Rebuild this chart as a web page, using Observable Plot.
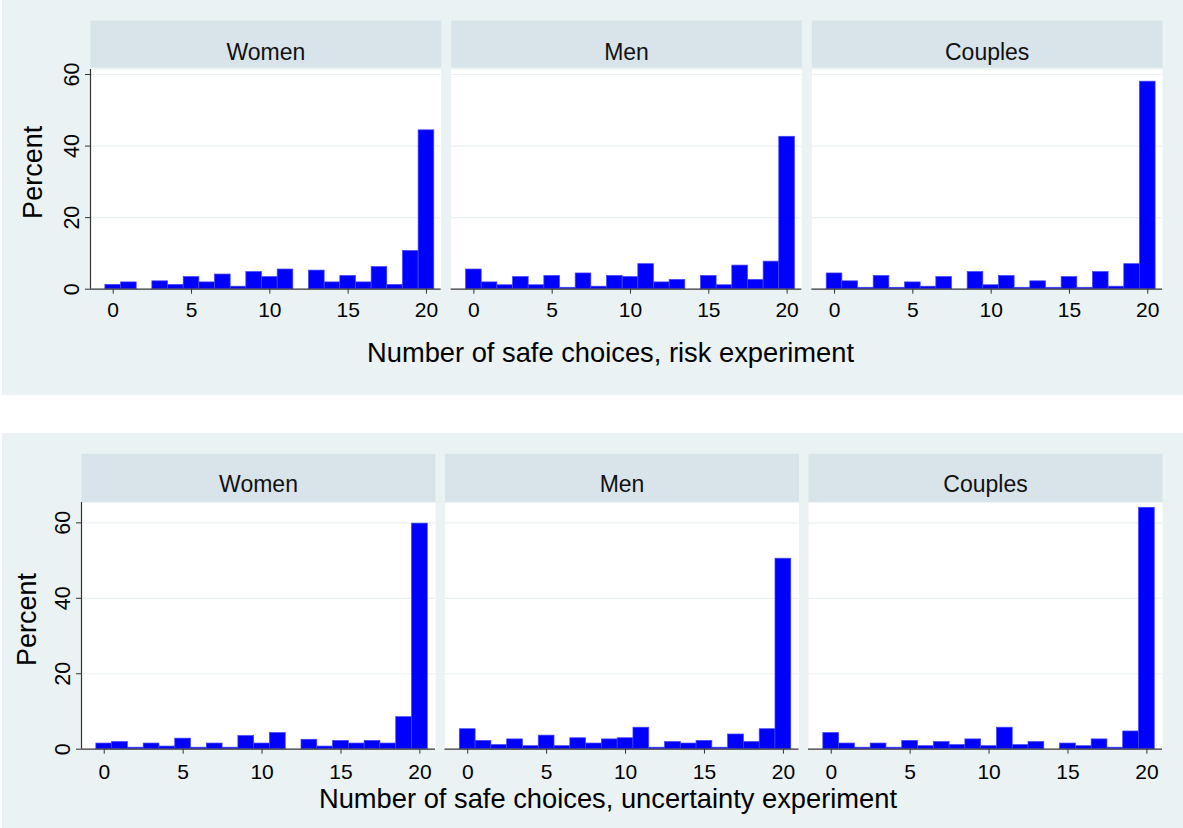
<!DOCTYPE html>
<html>
<head>
<meta charset="utf-8">
<script src="https://cdn.jsdelivr.net/npm/d3@7"></script>
<script src="https://cdn.jsdelivr.net/npm/@observablehq/plot@0.6"></script>
<style>
  html, body { margin: 0; padding: 0; background: #ffffff; }
  body { width: 1183px; height: 828px; position: relative; overflow: hidden;
         font-family: "Liberation Sans", Arial, sans-serif; }
  .panel { position: absolute; left: 2px; width: 1181px; height: 395px; background: #EAF2F3; }
</style>
</head>
<body>
<div id="risk" class="panel" style="top:0px"></div>
<div id="uncertainty" class="panel" style="top:433px"></div>
<script>
// Facet groups and histogram bins (number of safe choices, 0–20)
const groups = ["Women", "Men", "Couples"];
const choices = [0, 1, 2, 3, 4, 5, 6, 7, 8, 9, 10, 11, 12, 13, 14, 15, 16, 17, 18, 19, 20];

// Percent of respondents per bin, risk experiment
const riskWomen   = [1.2, 1.9, 0, 2.2, 1.2, 3.4, 1.9, 4.1, 0.7, 4.8, 3.4, 5.5, 0, 5.2, 1.9, 3.7, 1.9, 6.2, 1.2, 10.7, 44.4];
const riskMen     = [5.5, 1.9, 1.1, 3.4, 1.1, 3.7, 0.4, 4.4, 0.7, 3.7, 3.4, 7.0, 1.9, 2.6, 0, 3.7, 1.1, 6.6, 2.6, 7.7, 42.6];
const riskCouples = [4.4, 2.2, 0.4, 3.7, 0.4, 1.9, 0.7, 3.4, 0, 4.8, 1.1, 3.7, 0.4, 2.2, 0.4, 3.4, 0.4, 4.8, 0.7, 7.0, 58.0];

// Percent of respondents per bin, uncertainty experiment
const uncWomen   = [1.5, 1.9, 0.4, 1.5, 0.7, 2.8, 0.4, 1.5, 0.4, 3.5, 1.5, 4.3, 0, 2.5, 0.7, 2.2, 1.5, 2.2, 1.5, 8.5, 59.8];
const uncMen     = [5.3, 2.2, 1.1, 2.6, 0.8, 3.6, 0.8, 2.9, 1.5, 2.6, 2.9, 5.7, 0.4, 1.9, 1.5, 2.2, 0.4, 3.9, 1.9, 5.3, 50.5];
const uncCouples = [4.3, 1.5, 0.4, 1.5, 0.4, 2.2, 0.8, 1.9, 1.1, 2.6, 0.8, 5.7, 1.1, 1.9, 0, 1.5, 0.8, 2.6, 0.4, 4.7, 64.0];

// Axis ticks and titles
const xTicks = [0, 5, 10, 15, 20];
const yTicks = [0, 20, 40, 60];
const yTitle = "Percent";
const riskTitle = "Number of safe choices, risk experiment";
const uncTitle = "Number of safe choices, uncertainty experiment";

const FONT = "Liberation Sans, Arial, sans-serif";
const BG = "#EAF2F3";
const STRIP = "#D8E4EA";
const AXIS = "#333333";

function tidy(series) {
  return groups.flatMap((g, i) => choices.map((c, j) => ({group: g, choice: c, percent: series[i][j]})));
}

function histogramPanel(series, title, o) {
  const data = tidy(series);
  const plotH = o.height - o.marginTop - o.marginBottom;
  return Plot.plot({
    width: 1181,
    height: o.height,
    marginLeft: o.marginLeft,
    marginRight: o.marginRight,
    marginTop: o.marginTop,
    marginBottom: o.marginBottom,
    style: {background: "transparent", fontFamily: FONT, color: "#000", overflow: "visible"},
    fx: {domain: groups, paddingInner: o.facetGap, paddingOuter: 0, round: false, axis: null, label: null},
    x: {domain: o.xDomain, axis: null},
    y: {domain: [0, o.yMax], axis: null},
    marks: [
      // header strip above each facet, and the white plotting region
      Plot.frame({fill: STRIP, stroke: null, insetTop: -o.stripHeight - o.stripGap, insetBottom: plotH + o.stripGap}),
      Plot.frame({fill: "#ffffff", stroke: null}),
      Plot.gridY({ticks: yTicks.slice(1), stroke: BG, strokeOpacity: 1, strokeWidth: 1.2}),
      Plot.text(groups, {fx: d => d, text: d => d, frameAnchor: "top", dy: o.stripTextDy,
        fontSize: 23, fill: "#111"}),
      // histogram bars
      Plot.rectY(data, {
        x1: d => d.choice - 0.5, x2: d => d.choice + 0.5, y: "percent", fx: "group",
        fill: "#0000FF", stroke: "#4646FF", strokeWidth: 0.7
      }),
      // axes
      Plot.ruleY([0], {stroke: AXIS, strokeWidth: 1.2}),
      Plot.ruleX([{group: "Women", at: o.xDomain[0]}], {x: "at", fx: "group", stroke: AXIS, strokeWidth: 1.2}),
      Plot.axisX({ticks: xTicks, tickSize: 5, tickPadding: o.xTickPadding, fontSize: 21,
        label: null, stroke: AXIS, fill: "#000"}),
      Plot.axisY({ticks: yTicks, tickSize: 5, tickRotate: -90, tickPadding: o.yTickPadding, fontSize: 21.5,
        label: null, stroke: AXIS, fill: "#000"}),
      // axis titles
      Plot.text([{group: "Women", label: yTitle}], {fx: "group", text: "label", frameAnchor: "left",
        textAnchor: "middle", rotate: -90, lineAnchor: "top", dx: o.yTitleDx, dy: o.yTitleDy,
        fontSize: 27, fill: "#000"}),
      Plot.text([{group: "Men", label: title}], {fx: "group", text: "label", frameAnchor: "bottom",
        textAnchor: "middle", lineAnchor: "top", dx: o.xTitleDx, dy: o.xTitleDy, fontSize: 27.3, fill: "#000"})
    ]
  });
}

document.getElementById("risk").append(histogramPanel([riskWomen, riskMen, riskCouples], riskTitle, {
  height: 395, marginLeft: 88, marginRight: 21, marginTop: 69, marginBottom: 106.3,
  facetGap: 0.0277, xDomain: [-1.45, 20.94], yMax: 61.4,
  stripHeight: 47, stripGap: 2, stripTextDy: -25.5,
  xTickPadding: 8, yTickPadding: 6.7,
  yTitleDx: -68, yTitleDy: -7, xTitleDx: -16, xTitleDy: 53
}));

document.getElementById("uncertainty").append(histogramPanel([uncWomen, uncMen, uncCouples], uncTitle, {
  height: 395, marginLeft: 79, marginRight: 21, marginTop: 69, marginBottom: 79.3,
  facetGap: 0.0261, xDomain: [-1.44, 20.99], yMax: 65.4,
  stripHeight: 48.7, stripGap: 0, stripTextDy: -26.7,
  xTickPadding: 9.6, yTickPadding: 7,
  yTitleDx: -64.3, yTitleDy: -6.4, xTitleDx: -14, xTitleDy: 39.6
}));
</script>
</body>
</html>
